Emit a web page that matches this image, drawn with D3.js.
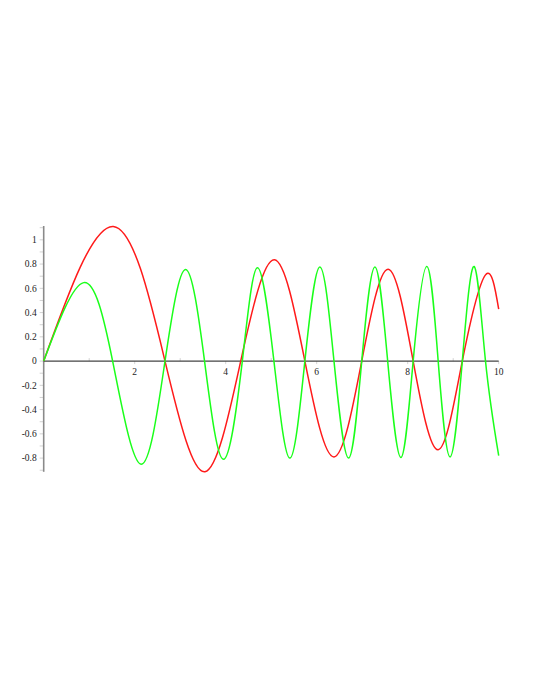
<!DOCTYPE html>
<html>
<head>
<meta charset="utf-8">
<script src="https://cdn.jsdelivr.net/npm/d3@7"></script>
<style>
  html, body { margin: 0; padding: 0; background: #fff; }
  svg { display: block; }
  .lbl { font-family: "Liberation Serif", "DejaVu Serif", serif; font-size: 9.5px; fill: #222; }
</style>
</head>
<body>
<div id="chart"></div>
<script>
// zero crossings and turning points (x, y)
const redX = [0, 1.53, 2.666, 3.545, 4.33, 5.07, 5.74, 6.38, 6.99, 7.57, 8.12, 8.67, 9.20, 9.71, 10];
const redY = [0, 1.11, 0, -0.912, 0, 0.835, 0, -0.79, 0, 0.758, 0, -0.731, 0, 0.711, 0.428];

const greenX = [0, 0.88, 1.515, 2.14, 2.666, 3.12, 3.535, 3.95, 4.365, 4.70, 5.06, 5.41, 5.74, 6.07, 6.38, 6.70, 6.99, 7.28, 7.56, 7.85, 8.12, 8.42, 8.67, 8.93, 9.20, 9.46, 9.71, 10];
const greenY = [0, 0.647, 0, -0.85, 0, 0.755, 0, -0.81, 0, 0.77, 0, -0.80, 0, 0.775, 0, -0.80, 0, 0.775, 0, -0.795, 0, 0.78, 0, -0.79, 0, 0.78, 0, -0.78];

const xTicks = [2, 4, 6, 8, 10];
const yTicks = [-0.8, -0.6, -0.4, -0.2, 0, 0.2, 0.4, 0.6, 0.8, 1];

const width = 540, height = 699;
const svg = d3.select("#chart").append("svg")
    .attr("width", width)
    .attr("height", height);

const x = d3.scaleLinear().domain([0, 10]).range([43.7, 498.7]);
const y = d3.scaleLinear().domain([-0.913, 1.114]).range([471.8, 226]);

// minor ticks, faint
const yMinor = d3.range(-9, 12).map(d => d / 10);
svg.append("g")
    .attr("stroke", "#c8c8c8")
    .attr("stroke-width", 0.8)
    .selectAll("line")
    .data(yMinor)
    .join("line")
    .attr("x1", x(0) - 4)
    .attr("x2", x(0))
    .attr("y1", d => y(d))
    .attr("y2", d => y(d));

const xMinor = d3.range(1, 11);
svg.append("g")
    .attr("stroke", "#c8c8c8")
    .attr("stroke-width", 0.8)
    .selectAll("line")
    .data(xMinor)
    .join("line")
    .attr("x1", d => x(d))
    .attr("x2", d => x(d))
    .attr("y1", d => d % 2 === 0 ? y(0) : y(0) - 3)
    .attr("y2", d => d % 2 === 0 ? y(0) + 3 : y(0));

// axes lines
svg.append("line")
    .attr("x1", x(0)).attr("x2", x(0))
    .attr("y1", y(1.114)).attr("y2", y(-0.913))
    .attr("stroke", "#8a8a8a")
    .attr("stroke-width", 1.6);

svg.append("line")
    .attr("x1", x(0)).attr("x2", x(10))
    .attr("y1", y(0)).attr("y2", y(0))
    .attr("stroke", "#444")
    .attr("stroke-width", 1.1);

// tick labels
svg.append("g")
    .selectAll("text")
    .data(xTicks)
    .join("text")
    .attr("class", "lbl")
    .attr("x", d => x(d))
    .attr("y", y(0) + 14)
    .attr("text-anchor", "middle")
    .text(d => d);

svg.append("g")
    .selectAll("text")
    .data(yTicks)
    .join("text")
    .attr("class", "lbl")
    .attr("x", x(0) - 7)
    .attr("y", d => y(d) + 3.3)
    .attr("text-anchor", "end")
    .text(d => d);

// curves
const line = d3.line()
    .x(d => x(d[0]))
    .y(d => y(d[1]))
    .curve(d3.curveNatural);

const series = [
    { xs: redX, ys: redY, color: "#ff1a1a" },
    { xs: greenX, ys: greenY, color: "#1aff1a" }
];

svg.append("g")
    .selectAll("path")
    .data(series)
    .join("path")
    .attr("fill", "none")
    .attr("stroke", d => d.color)
    .attr("stroke-width", 1.5)
    .attr("d", d => line(d.xs.map((v, i) => [v, d.ys[i]])));
</script>
</body>
</html>
